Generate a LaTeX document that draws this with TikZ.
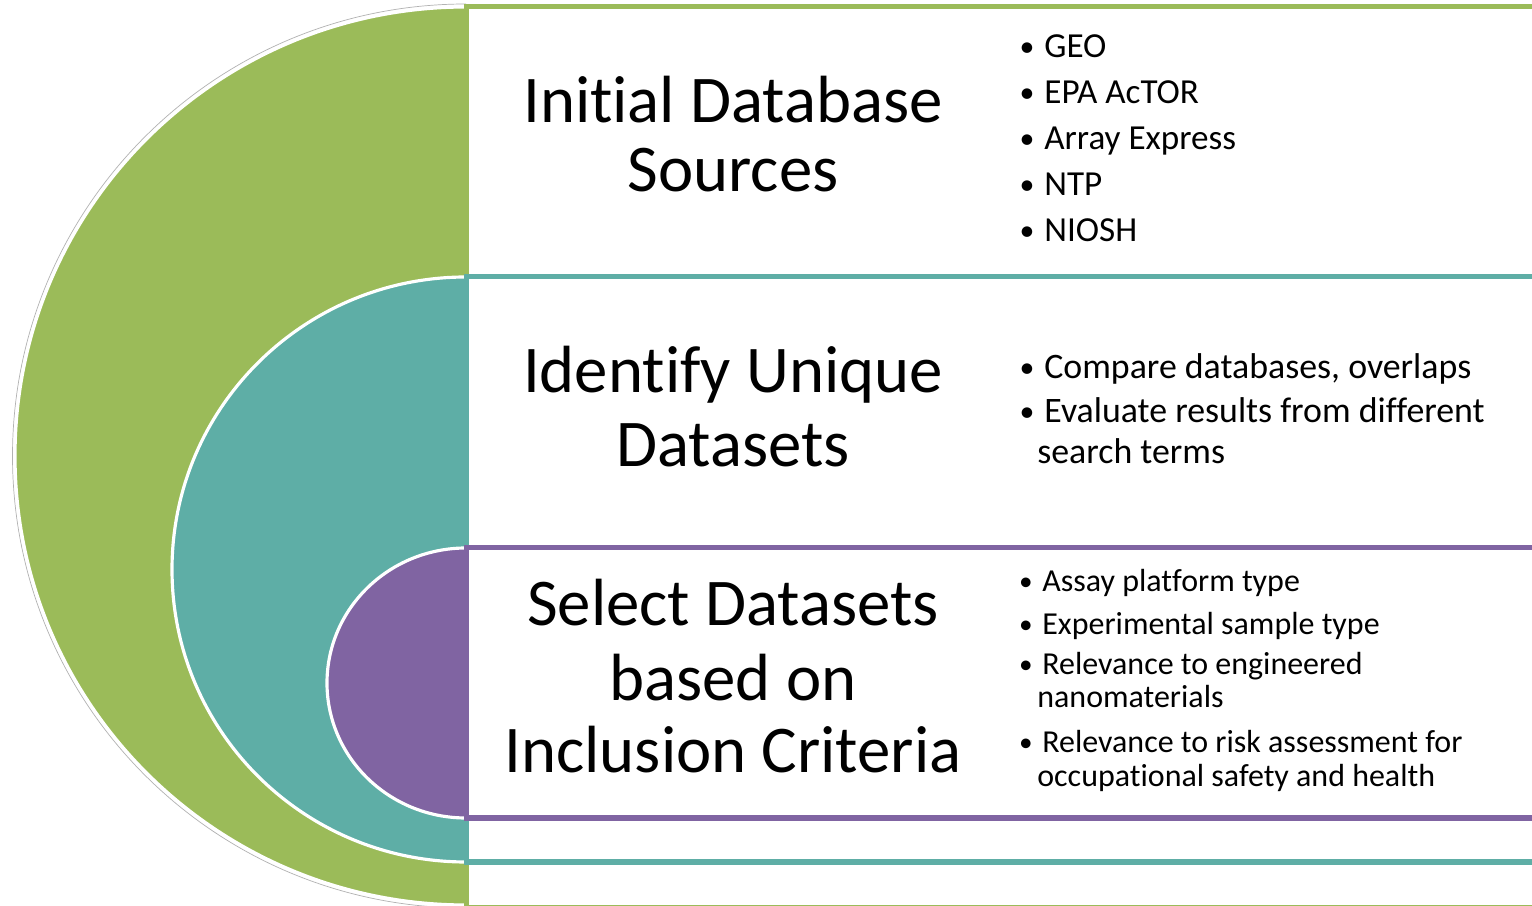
\documentclass[tikz,border=0pt]{standalone}
\usepackage{fontspec}
\setmainfont[Ligatures={NoCommon,NoRequired,NoContextual}]{Carlito}
\definecolor{cgreen}{HTML}{9BBB59}
\definecolor{cteal}{HTML}{5EAEA6}
\definecolor{cpurple}{HTML}{8064A2}
\begin{document}
\begin{tikzpicture}[x=0.02cm,y=0.02cm,
  band/.style={draw=#1,line width=2.85pt,fill=white},
  halo/.style={draw=white,line width=1.8pt},
  ttl/.style={anchor=base,inner sep=0pt,font=\fontsize{38}{42}\selectfont},
  itA/.style={anchor=base west,inner sep=0pt,font=\fontsize{20}{24}\selectfont},
  itB/.style={anchor=base west,inner sep=0pt,font=\fontsize{20.4}{24}\selectfont},
  itC/.style={anchor=base west,inner sep=0pt,font=\fontsize{18.2}{22}\selectfont},
  bulA/.style={anchor=base,inner sep=0pt,font=\fontsize{17}{20}\selectfont},
  bulC/.style={anchor=base,inner sep=0pt,font=\fontsize{15.5}{18}\selectfont}]
\useasboundingbox (0,0) rectangle (1532,906);
\clip (0,0) rectangle (1532,906);
\fill[white] (0,0) rectangle (1532,906);
% green layer
\draw[gray!60,line width=0.4pt] (466,902) arc[start angle=90,end angle=270,x radius=453.5,y radius=452];
\fill[cgreen] (466,899) arc[start angle=90,end angle=270,x radius=451,y radius=449] -- cycle;
\draw[halo] (466,899) arc[start angle=90,end angle=270,x radius=451,y radius=449];
\draw[band=cgreen] (466,899.5) rectangle (1560,-1.5);
% teal layer
\fill[cteal] (466,629) arc[start angle=90,end angle=270,x radius=294,y radius=292.5] -- cycle;
\draw[halo] (466,629) arc[start angle=90,end angle=270,x radius=294,y radius=292.5];
\draw[band=cteal] (466,629) rectangle (1560,44);
% purple layer
\fill[cpurple] (466,358) arc[start angle=90,end angle=270,x radius=139,y radius=135] -- cycle;
\draw[halo] (466,358) arc[start angle=90,end angle=270,x radius=139,y radius=135];
\draw[band=cpurple] (466,358) rectangle (1560,88);
% titles
\node[ttl] (t1a) at (733,783) {Initial Database};
\node[ttl] (t1b) at (733,714) {Sources};
\node[ttl] (t2a) at (733,513) {Identify Unique};
\node[ttl] (t2b) at (733,439) {Datasets};
\node[ttl] (t3a) at (733,280) {Select Datasets};
\node[ttl] (t3b) at (733,205) {based on};
\node[ttl] (t3c) at (733,133) {Inclusion Criteria};
% group 1
\node[bulA] (b1a) at (1027,849) {•};
\node[itA] (i1a) at (1044,848) {GEO};
\node[bulA] (b1b) at (1027,803) {•};
\node[itA] (i1b) at (1044,802) {EPA AcTOR};
\node[bulA] (b1c) at (1027,757) {•};
\node[itA] (i1c) at (1044,756) {Array Express};
\node[bulA] (b1d) at (1027,711) {•};
\node[itA] (i1d) at (1044,710) {NTP};
\node[bulA] (b1e) at (1027,665) {•};
\node[itA] (i1e) at (1044,664) {NIOSH};
% group 2
\node[bulA] (b2a) at (1027,528) {•};
\node[itB] (i2a) at (1044,527) {Compare databases, overlaps};
\node[bulA] (b2b) at (1027,484) {•};
\node[itB] (i2b) at (1044,483) {Evaluate results from different};
\node[itB] (i2c) at (1037,442) {search terms};
% group 3
\node[bulC] (b3a) at (1026,315) {•};
\node[itC] (i3a) at (1042,314) {Assay platform type};
\node[bulC] (b3b) at (1026,272) {•};
\node[itC] (i3b) at (1042,271) {Experimental sample type};
\node[bulC] (b3c) at (1026,232) {•};
\node[itC] (i3c) at (1042,231) {Relevance to engineered};
\node[itC] (i3d) at (1037,198) {nanomaterials};
\node[bulC] (b3d) at (1026,154) {•};
\node[itC] (i3e) at (1042,153) {Relevance to risk assessment for};
\node[itC] (i3f) at (1037,119) {occupational safety and health};
\end{tikzpicture}
\end{document}
